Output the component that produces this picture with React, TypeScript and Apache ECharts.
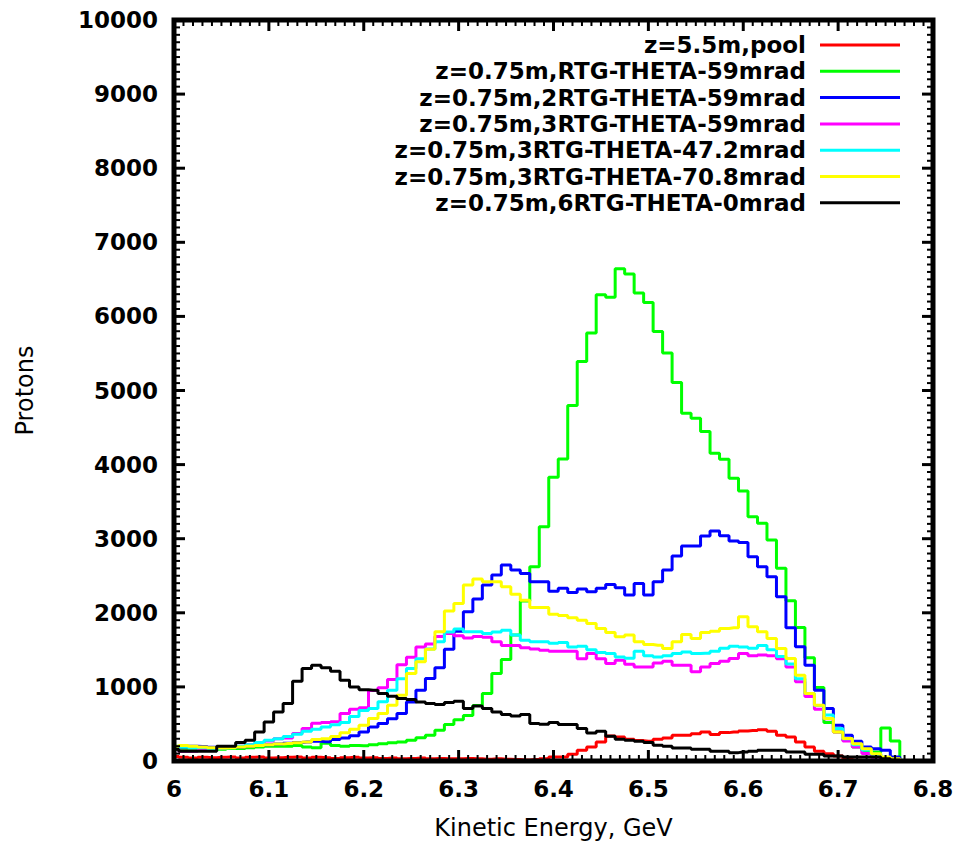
import React, { useEffect, useRef } from "react";
import * as echarts from "echarts";

// bin centres (GeV)
const energy = [
  6.0, 6.01, 6.02, 6.03, 6.04, 6.05, 6.06, 6.07, 6.08, 6.09,
  6.1, 6.11, 6.12, 6.13, 6.14, 6.15, 6.16, 6.17, 6.18, 6.19,
  6.2, 6.21, 6.22, 6.23, 6.24, 6.25, 6.26, 6.27, 6.28, 6.29,
  6.3, 6.31, 6.32, 6.33, 6.34, 6.35, 6.36, 6.37, 6.38, 6.39,
  6.4, 6.41, 6.42, 6.43, 6.44, 6.45, 6.46, 6.47, 6.48, 6.49,
  6.5, 6.51, 6.52, 6.53, 6.54, 6.55, 6.56, 6.57, 6.58, 6.59,
  6.6, 6.61, 6.62, 6.63, 6.64, 6.65, 6.66, 6.67, 6.68, 6.69,
  6.7, 6.71, 6.72, 6.73, 6.74, 6.75, 6.76, 6.77, 6.78, 6.79, 6.8,
];

const seriesNames = [
  "z=5.5m,pool",
  "z=0.75m,RTG-THETA-59mrad",
  "z=0.75m,2RTG-THETA-59mrad",
  "z=0.75m,3RTG-THETA-59mrad",
  "z=0.75m,3RTG-THETA-47.2mrad",
  "z=0.75m,3RTG-THETA-70.8mrad",
  "z=0.75m,6RTG-THETA-0mrad",
];

const seriesColors = ["#ff0000", "#00ff00", "#0000ff", "#ff00ff", "#00ffff", "#ffff00", "#000000"];

const pool = [
  60, 50, 40, 50, 45, 50, 55, 40, 50, 55,
  40, 45, 50, 55, 40, 50, 45, 35, 45, 50,
  40, 45, 35, 40, 30, 35, 40, 30, 35, 30,
  30, 35, 30, 25, 30, 25, 20, 15, 20, 30,
  54, 54, 90, 144, 189, 257, 338, 324, 293, 275,
  266, 293, 311, 347, 347, 369, 392, 356, 383, 392,
  405, 410, 423, 400, 347, 324, 257, 189, 131, 99,
  68, 30, 10, 0, 0, 0, 0, 0, 0, 0, 0,
];

const rtg59 = [
  160, 170, 170, 150, 150, 160, 170, 170, 180, 190,
  200, 200, 200, 210, 190, 180, 240, 210, 200, 210,
  205, 220, 234, 245, 257, 279, 315, 347, 414, 491,
  555, 615, 750, 910, 1180, 1370, 1700, 2160, 2620, 3162,
  3829, 4077, 4797, 5392, 5775, 6293, 6257, 6644, 6572, 6315,
  6189, 5797, 5505, 5108, 4694, 4626, 4446, 4153, 4072, 3815,
  3644, 3297, 3207, 2982, 2600, 2162, 1802, 1392, 991, 518,
  390, 280, 190, 140, 120, 446, 270, 0, 0, 0, 0,
];

const rtg2_59 = [
  180, 190, 200, 195, 185, 180, 185, 190, 200, 210,
  220, 230, 240, 250, 255, 265, 260, 290, 310, 340,
  390, 460, 505, 570, 640, 797, 955, 1113, 1257, 1509,
  1750, 2014, 2185, 2374, 2509, 2644, 2577, 2532, 2419, 2419,
  2290, 2330, 2275, 2320, 2284, 2330, 2383, 2338, 2239, 2396,
  2239, 2419, 2577, 2766, 2900, 2900, 3036, 3104, 3040, 2968,
  2950, 2757, 2622, 2486, 2216, 1797, 1541, 1293, 955, 707,
  482, 347, 266, 189, 167, 144, 54, 0, 0, 0, 0,
];

const rtg3_59 = [
  170, 130, 130, 150, 170, 180, 190, 200, 220, 240,
  270, 300, 310, 370, 440, 510, 520, 530, 640, 700,
  720, 950, 990, 1100, 1300, 1400, 1540, 1580, 1680, 1720,
  1690, 1660, 1680, 1670, 1610, 1560, 1560, 1530, 1510, 1495,
  1480, 1480, 1480, 1380, 1450, 1380, 1315, 1360, 1306, 1270,
  1270, 1324, 1347, 1293, 1293, 1203, 1270, 1315, 1347, 1383,
  1450, 1420, 1430, 1420, 1380, 1270, 1070, 870, 700, 570,
  390, 270, 190, 100, 50, 20, 0, 0, 0, 0, 0,
];

const rtg3_472 = [
  200, 190, 180, 180, 170, 175, 180, 200, 220, 250,
  280, 300, 330, 360, 400, 430, 460, 490, 520, 600,
  680, 710, 800, 955, 1110, 1250, 1380, 1510, 1610, 1740,
  1780, 1745, 1745, 1720, 1740, 1765, 1700, 1630, 1610, 1610,
  1590, 1600, 1540, 1550, 1500, 1465, 1450, 1405, 1385, 1480,
  1420, 1405, 1420, 1450, 1470, 1450, 1455, 1480, 1520, 1550,
  1540, 1520, 1560, 1500, 1410, 1310, 1110, 910, 750, 620,
  440, 300, 220, 150, 90, 40, 0, 0, 0, 0, 0,
];

const rtg3_708 = [
  200, 210, 200, 190, 180, 175, 180, 190, 200, 210,
  220, 230, 235, 245, 255, 290, 300, 330, 380, 430,
  482, 572, 640, 752, 887, 1180, 1338, 1509, 1743, 2023,
  2126, 2374, 2455, 2420, 2420, 2351, 2250, 2170, 2070, 2070,
  1980, 1965, 1932, 1900, 1856, 1788, 1734, 1676, 1700, 1608,
  1572, 1563, 1518, 1608, 1707, 1653, 1734, 1752, 1788, 1797,
  1946, 1811, 1743, 1653, 1518, 1383, 1158, 910, 752, 572,
  392, 302, 234, 167, 99, 54, 30, 0, 0, 0, 0,
];

const rtg6_0 = [
  158, 130, 130, 130, 130, 200, 200, 248, 280, 392,
  527, 662, 775, 1077, 1248, 1293, 1257, 1212, 1090, 1000,
  960, 955, 910, 874, 842, 829, 797, 775, 761, 788,
  806, 707, 743, 707, 662, 626, 608, 626, 505, 495,
  518, 491, 491, 437, 378, 401, 333, 293, 280, 266,
  248, 212, 200, 176, 176, 158, 158, 131, 131, 113,
  120, 131, 144, 144, 144, 122, 122, 90, 90, 68,
  68, 54, 54, 54, 54, 30, 10, 0, 0, 0, 0,
];

const allValues = [pool, rtg59, rtg2_59, rtg3_59, rtg3_472, rtg3_708, rtg6_0];

const xTicks = { min: 6, max: 6.8, interval: 0.1 };
const yTicks = { min: 0, max: 10000, interval: 1000, minorStep: 100 };

export default function App() {
  const ref = useRef<HTMLDivElement>(null);

  useEffect(() => {
    document.body.style.margin = "0";
    const chart = echarts.init(ref.current as HTMLDivElement, null, { renderer: "svg" });

    const lineSeries = allValues.map((vals, s) => ({
      name: seriesNames[s],
      type: "line",
      step: "middle",
      symbol: "none",
      color: seriesColors[s],
      lineStyle: { color: seriesColors[s], width: 3 },
      data: energy.map((e, i) => [e, vals[i]]),
    }));

    chart.setOption({
      animation: false,
      backgroundColor: "#ffffff",
      grid: { left: 174, right: 25, top: 20, bottom: 84 },
      legend: {
        orient: "vertical",
        right: 58,
        top: 32,
        align: "right",
        icon: "rect",
        itemWidth: 80,
        itemHeight: 3,
        itemGap: 0.3,
        padding: 0,
        selectedMode: false,
        data: seriesNames,
        textStyle: {
          fontFamily: "DejaVu Sans",
          fontWeight: "bold",
          fontSize: 23,
          color: "#000000",
          lineHeight: 26,
          padding: [0, 9, 0, 0],
        },
      },
      xAxis: {
        type: "value",
        min: xTicks.min,
        max: xTicks.max,
        interval: xTicks.interval,
        axisLine: { show: false },
        axisTick: { show: false },
        splitLine: { show: false },
        axisLabel: {
          fontFamily: "DejaVu Sans",
          fontWeight: "bold",
          fontSize: 23,
          color: "#000000",
          margin: 16,
          formatter: (v: number) => String(parseFloat(v.toFixed(1))),
        },
      },
      yAxis: {
        type: "value",
        min: yTicks.min,
        max: yTicks.max,
        interval: yTicks.interval,
        axisLine: { show: false },
        axisTick: { show: false },
        splitLine: { show: false },
        axisLabel: {
          fontFamily: "DejaVu Sans",
          fontWeight: "bold",
          fontSize: 23,
          color: "#000000",
          margin: 16,
          formatter: (v: number) => String(v),
        },
      },
      series: lineSeries,
    });

    // frame, inward ticks on all four sides and axis titles, placed through the chart's own scales
    const toPx = (x: number, y: number) => chart.convertToPixel({ gridIndex: 0 }, [x, y]) as number[];
    const bl = toPx(xTicks.min, yTicks.min);
    const tr = toPx(xTicks.max, yTicks.max);
    const elems: any[] = [];
    const tickStyle = (major: boolean) => ({ stroke: "#000000", lineWidth: major ? 3 : 2 });

    energy.forEach((e, i) => {
      const major = i % 10 === 0;
      const len = major ? 11 : 6;
      const b = toPx(e, yTicks.min);
      const t = toPx(e, yTicks.max);
      elems.push({ type: "line", z: 100, silent: true, shape: { x1: b[0], y1: b[1], x2: b[0], y2: b[1] - len }, style: tickStyle(major) });
      elems.push({ type: "line", z: 100, silent: true, shape: { x1: t[0], y1: t[1], x2: t[0], y2: t[1] + len }, style: tickStyle(major) });
    });
    const nY = Math.round((yTicks.max - yTicks.min) / yTicks.minorStep);
    for (let j = 0; j <= nY; j++) {
      const v = yTicks.min + j * yTicks.minorStep;
      const major = j % 10 === 0;
      const len = major ? 11 : 6;
      const l = toPx(xTicks.min, v);
      const r = toPx(xTicks.max, v);
      elems.push({ type: "line", z: 100, silent: true, shape: { x1: l[0], y1: l[1], x2: l[0] + len, y2: l[1] }, style: tickStyle(major) });
      elems.push({ type: "line", z: 100, silent: true, shape: { x1: r[0], y1: r[1], x2: r[0] - len, y2: r[1] }, style: tickStyle(major) });
    }
    elems.push({
      type: "rect",
      z: 101,
      silent: true,
      shape: { x: bl[0], y: tr[1], width: tr[0] - bl[0], height: bl[1] - tr[1] },
      style: { fill: "none", stroke: "#000000", lineWidth: 5 },
    });
    elems.push({
      type: "text",
      z: 101,
      x: (bl[0] + tr[0]) / 2,
      y: 828,
      style: {
        text: "Kinetic Energy, GeV",
        fontFamily: "DejaVu Sans",
        fontSize: 24,
        fill: "#000000",
        align: "center",
        verticalAlign: "middle",
      },
    });
    elems.push({
      type: "text",
      z: 101,
      x: 25,
      y: (bl[1] + tr[1]) / 2,
      rotation: Math.PI / 2,
      style: {
        text: "Protons",
        fontFamily: "DejaVu Sans",
        fontSize: 24,
        fill: "#000000",
        align: "center",
        verticalAlign: "middle",
      },
    });

    chart.setOption({ graphic: { elements: elems } });

    return () => chart.dispose();
  }, []);

  return <div ref={ref} style={{ width: 958, height: 845, background: "#fff" }} />;
}
